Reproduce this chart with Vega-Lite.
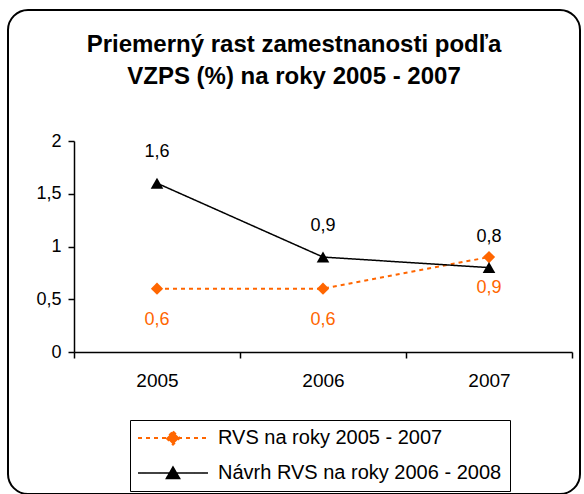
{
  "$schema": "https://vega.github.io/schema/vega-lite/v6.json",
  "autosize": {"type": "none"},
  "padding": {"left": 8, "top": 10, "right": 4, "bottom": 0},
  "width": 572,
  "height": 484,
  "title": {
    "text": ["Priemerný rast zamestnanosti podľa", "VZPS (%) na roky 2005 - 2007"],
    "font": "Liberation Sans",
    "fontSize": 24,
    "fontWeight": "bold",
    "color": "black",
    "anchor": "middle",
    "frame": "group",
    "lineHeight": 32,
    "offset": -79
  },
  "config": {
    "locale": {"number": {"decimal": ",", "thousands": " ", "grouping": [3], "currency": ["", " €"]}},
    "view": {"stroke": "black", "strokeWidth": 2, "cornerRadius": 20, "fill": "white"},
    "background": "white",
    "font": "Liberation Sans",
    "axis": {"domainColor": "black", "tickColor": "black", "labelColor": "black", "grid": false, "title": null, "labelFont": "Liberation Sans", "domainWidth": 1.5, "tickWidth": 1.5}
  },
  "data": {
    "values": [
      {"year": "2005", "series": "RVS na roky 2005 - 2007", "value": 0.6},
      {"year": "2006", "series": "RVS na roky 2005 - 2007", "value": 0.6},
      {"year": "2007", "series": "RVS na roky 2005 - 2007", "value": 0.9},
      {"year": "2005", "series": "Návrh RVS na roky 2006 - 2008", "value": 1.6},
      {"year": "2006", "series": "Návrh RVS na roky 2006 - 2008", "value": 0.9},
      {"year": "2007", "series": "Návrh RVS na roky 2006 - 2008", "value": 0.8}
    ]
  },
  "encoding": {
    "x": {
      "field": "year", "type": "nominal",
      "scale": {"type": "band", "paddingInner": 0, "paddingOuter": 0, "range": [66, 564]},
      "axis": {"labelAngle": 0, "tickBand": "extent", "tickSize": 6, "labelPadding": 13, "labelFontSize": 19, "offset": -142}
    },
    "y": {
      "field": "value", "type": "quantitative",
      "scale": {"domain": [0, 2], "range": [342, 131], "nice": false, "zero": true},
      "axis": {"values": [0, 0.5, 1, 1.5, 2], "format": "~g", "tickSize": 6, "labelPadding": 7, "labelFontSize": 18, "offset": -66}
    }
  },
  "layer": [
    {
      "mark": {"type": "line"},
      "encoding": {
        "color": {
          "field": "series", "type": "nominal",
          "scale": {"domain": ["RVS na roky 2005 - 2007", "Návrh RVS na roky 2006 - 2008"], "range": ["#FF6600", "black"]},
          "legend": {
            "title": null,
            "orient": "none",
            "legendX": 122,
            "legendY": 410,
            "direction": "vertical",
            "strokeColor": "black",
            "padding": 8,
            "symbolSize": 144,
            "labelFontSize": 20,
            "labelFont": "Liberation Sans",
            "labelColor": "black",
            "labelLimit": 500,
            "labelOffset": 60,
            "rowPadding": 14,
            "encode": {
              "symbols": {
                "update": {
                  "shape": {"signal": "datum.value === 'RVS na roky 2005 - 2007' ? 'M-5.83,0L5.83,0M0,-1.1L1.1,0L0,1.1L-1.1,0Z' : 'M-5.83,0L5.83,0M0,-1L1.1,0.9L-1.1,0.9Z'"},
                  "x": {"value": 35},
                  "fill": {"signal": "datum.value === 'RVS na roky 2005 - 2007' ? '#FF6600' : 'black'"},
                  "stroke": {"signal": "datum.value === 'RVS na roky 2005 - 2007' ? '#FF6600' : 'black'"},
                  "strokeDash": {"signal": "datum.value === 'RVS na roky 2005 - 2007' ? [4, 4] : [1, 0]"},
                  "strokeWidth": {"signal": "datum.value === 'RVS na roky 2005 - 2007' ? 2 : 1.5"},
                  "opacity": {"value": 1}
                }
              }
            }
          }
        },
        "strokeDash": {
          "field": "series", "type": "nominal",
          "scale": {"domain": ["RVS na roky 2005 - 2007", "Návrh RVS na roky 2006 - 2008"], "range": [[4, 4], [1, 0]]},
          "legend": null
        },
        "strokeWidth": {
          "field": "series", "type": "nominal",
          "scale": {"domain": ["RVS na roky 2005 - 2007", "Návrh RVS na roky 2006 - 2008"], "range": [2, 1.5]},
          "legend": null
        }
      }
    },
    {
      "transform": [{"filter": "datum.series === 'RVS na roky 2005 - 2007'"}],
      "mark": {"type": "point", "filled": true, "opacity": 1, "size": 150, "shape": "diamond", "color": "#FF6600"}
    },
    {
      "transform": [{"filter": "datum.series === 'Návrh RVS na roky 2006 - 2008'"}],
      "mark": {"type": "point", "filled": true, "opacity": 1, "size": 160, "shape": "triangle-up", "color": "black"}
    },
    {
      "transform": [{"filter": "datum.series === 'Návrh RVS na roky 2006 - 2008'"}],
      "mark": {"type": "text", "dy": -31, "fontSize": 18, "color": "black", "baseline": "middle", "align": "center", "font": "Liberation Sans"},
      "encoding": {"text": {"field": "value", "type": "quantitative", "format": ".1f"}}
    },
    {
      "transform": [{"filter": "datum.series === 'RVS na roky 2005 - 2007'"}],
      "mark": {"type": "text", "dy": 31, "fontSize": 18, "color": "#FF6600", "baseline": "middle", "align": "center", "font": "Liberation Sans"},
      "encoding": {"text": {"field": "value", "type": "quantitative", "format": ".1f"}}
    }
  ]
}
